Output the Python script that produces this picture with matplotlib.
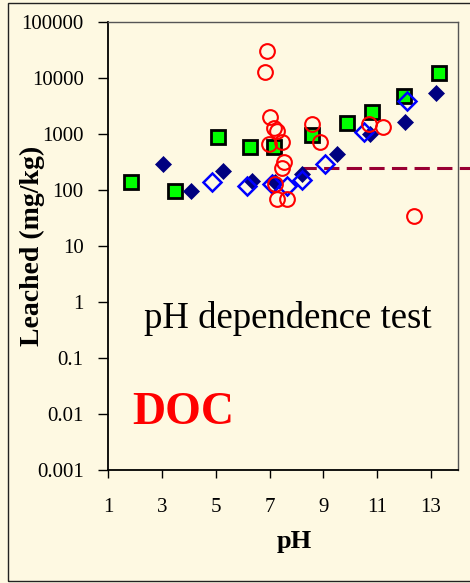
import matplotlib.pyplot as plt
from matplotlib.patches import Rectangle

# pH dependence test data, DOC leached (mg/kg)
sq_ph = [1.84, 3.50, 5.07, 6.27, 7.18, 8.58, 9.88, 10.80, 12.0, 13.29]
sq_val = [140, 95, 867, 584, 593, 968, 1600, 2470, 4860, 12250]

dia_ph = [3.04, 4.07, 5.26, 6.36, 7.20, 8.22, 9.52, 10.73, 12.02, 13.2]
dia_val = [288, 95, 217, 144, 140, 192, 440, 992, 1620, 5500]

odia_ph = [4.88, 6.17, 7.10, 7.66, 8.22, 9.05, 10.51, 12.12]
odia_val = [140, 116, 126, 120, 148, 292, 1064, 3870]

circ_ph = [6.92, 6.82, 7.00, 7.18, 7.27, 6.98, 7.48, 7.54, 7.45, 7.19, 7.26, 7.66,
           8.56, 8.86, 10.70, 11.23, 12.37]
circ_val = [30900, 12600, 2010, 1270, 1140, 660, 708, 322, 245, 129, 70, 70,
            1494, 728, 1494, 1340, 34.7]

limit_ph = [8.16, 14.5]
limit_val = [250, 250]

yticks = [0.001, 0.01, 0.1, 1, 10, 100, 1000, 10000, 100000]
ylabels = ['0.001', '0.01', '0.1', '1', '10', '100', '1000', '10000', '100000']
xticks = [1, 3, 5, 7, 9, 11, 13]

bg = '#fef9e2'
serif = ['Liberation Serif', 'DejaVu Serif']

fig = plt.figure(figsize=(4.7, 5.83), dpi=100, facecolor=bg)
ax = fig.add_axes([108 / 470, (583 - 470) / 583, 350 / 470, 448 / 583])
ax.set_facecolor(bg)

ax.plot(limit_ph, limit_val, color='#990033', lw=2.2, ls=(0, (5, 2.4)),
        clip_on=False, zorder=2)
ax.plot(sq_ph, sq_val, 's', ms=10.5, mfc='#00ff00', mec='black', mew=2.0,
        ls='none', zorder=3)
ax.plot(dia_ph, dia_val, 'D', ms=8.4, mfc='#000080', mec='#000080', mew=0.5,
        ls='none', zorder=4)
ax.plot(odia_ph, odia_val, 'D', ms=9.2, mfc='none', mec='#0000ff', mew=1.8,
        ls='none', zorder=5)
ax.plot(circ_ph, circ_val, 'o', ms=10.6, mfc='none', mec='#ff0000', mew=1.5,
        ls='none', zorder=6)

ax.set_yscale('log')
ax.set_ylim(0.001, 100000)
ax.set_xlim(1, 14)
ax.set_yticks(yticks)
ax.set_yticklabels(ylabels)
ax.set_xticks(xticks)
ax.minorticks_off()
ax.tick_params(axis='y', direction='out', length=7, width=1, pad=10.5,
               labelsize=15)
ax.tick_params(axis='x', direction='out', length=6, width=1, pad=14,
               labelsize=15)
for lab in ax.get_xticklabels() + ax.get_yticklabels():
    lab.set_family(serif)

for s in ['left', 'bottom']:
    ax.spines[s].set_color('black')
    ax.spines[s].set_linewidth(1.3)
for s in ['top', 'right']:
    ax.spines[s].set_color('#555555')
    ax.spines[s].set_linewidth(1.0)

ax.set_xlabel('pH', family=serif, fontsize=19, fontweight='bold')
ax.xaxis.set_label_coords(0.532, -0.135)
ax.set_ylabel('Leached (mg/kg)', family=serif, fontsize=20, fontweight='bold')
ax.yaxis.set_label_coords(-0.18, 0.5)

ax.text(0.514, 0.339, 'pH dependence test', transform=ax.transAxes,
        family=serif, fontsize=26.5, ha='center', va='center')
ax.text(0.068, 0.128, 'DOC', transform=ax.transAxes, family=serif,
        fontsize=33, fontweight='bold', color='#ff0000', ha='left',
        va='center')

# outer frame of the slide panel
fig.patches.append(Rectangle((8 / 470, 2 / 583), 480 / 470, 578 / 583,
                             transform=fig.transFigure, fill=False,
                             edgecolor='#222222', lw=1.0))

fig.savefig('out.png', dpi=100, facecolor=bg)
